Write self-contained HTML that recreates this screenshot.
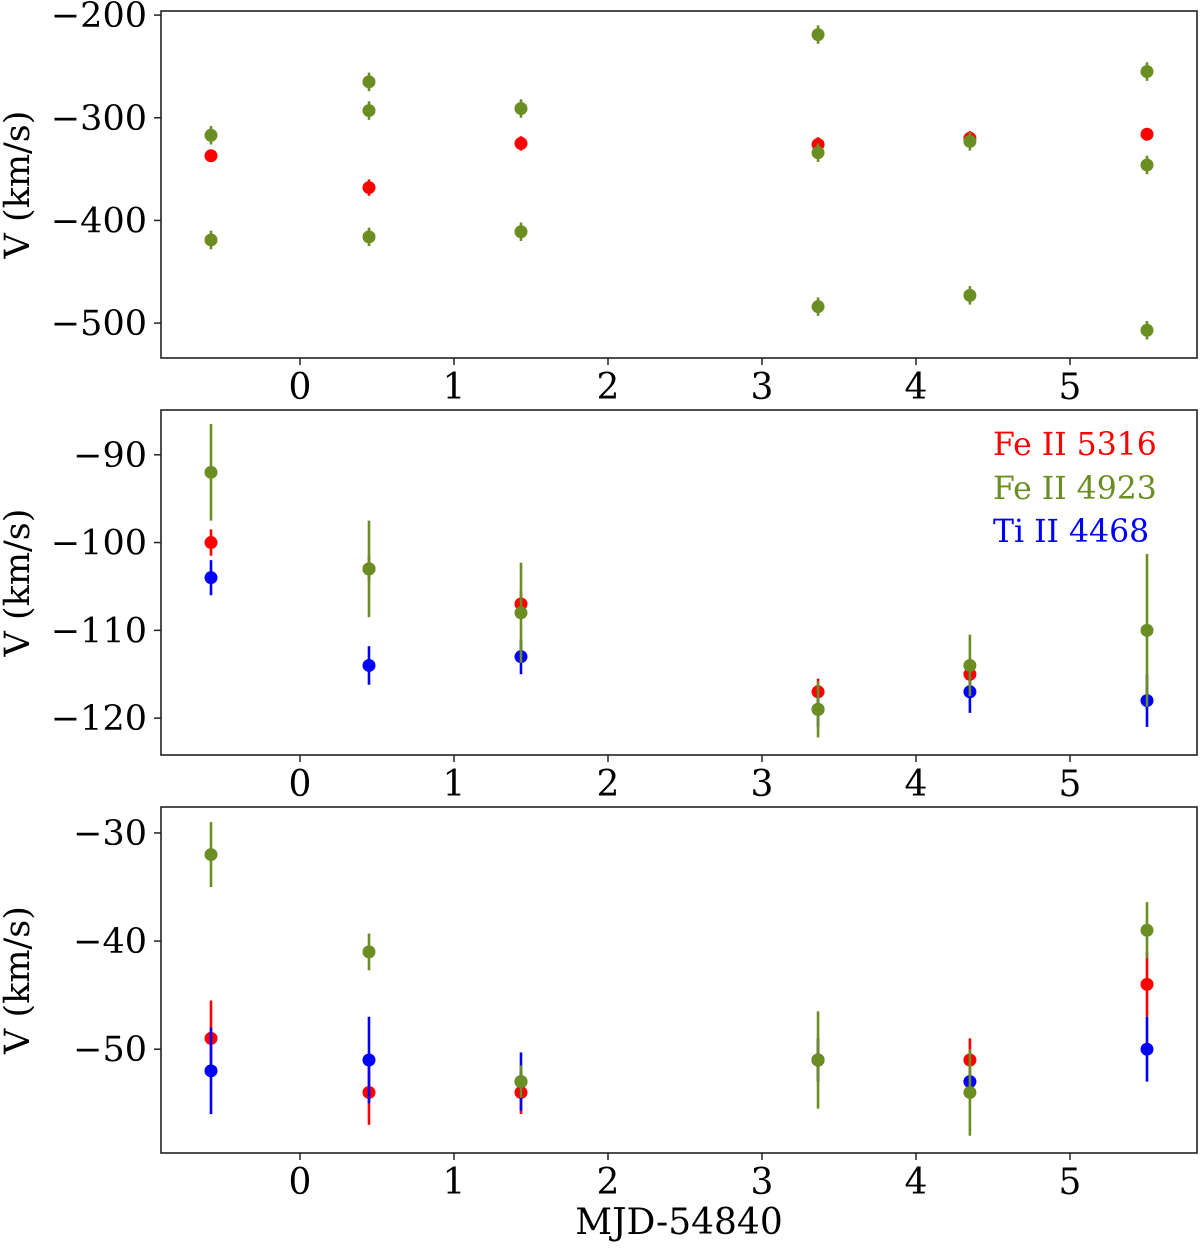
<!DOCTYPE html>
<html><head><meta charset="utf-8"><style>
body{margin:0;background:#fff}
text{font-family:"DejaVu Serif","Liberation Serif",serif}
</style></head><body>
<svg id="chart" width="1200" height="1245" xmlns="http://www.w3.org/2000/svg"></svg>
<script>
const xDates = [-0.578, 0.448, 1.435, 3.364, 4.35, 5.5];
const xTicks = [0, 1, 2, 3, 4, 5];
// Panel 1
const p1Red = [-337, -368, -325, -326, -320, -316];
const p1RedErr = [6, 8, 7, 7, 7, 5];
const p1GreenA = [-317, -265, -291, -219, -323, -255];
const p1GreenB = [-419, -293, -411, -334, null, -346];
const p1GreenC = [null, -416, null, -484, -473, -507];
const p1GreenErr = 9;
const p1Ticks = [-200, -300, -400, -500];
// Panel 2
const p2Red = [-100, -103, -107, -117, -115, null];
const p2RedErr = [1.5, 1.5, 1.5, 1.5, 1.2, 0];
const p2Green = [-92, -103, -108, -119, -114, -110];
const p2GreenErr = [5.5, 5.5, 5.7, 3.2, 3.5, 8.7];
const p2Blue = [-104, -114, -113, -119, -117, -118];
const p2BlueErr = [2, 2.2, 2, 2, 2.4, 3];
const p2Ticks = [-90, -100, -110, -120];
// Panel 3
const p3Red = [-49, -54, -54, -51, -51, -44];
const p3RedErr = [3.5, 3, 2, 2, 2, 3];
const p3Green = [-32, -41, -53, -51, -54, -39];
const p3GreenErr = [3, 1.7, 1.5, 4.5, 4, 2.6];
const p3Blue = [-52, -51, -53, -51, -53, -50];
const p3BlueErr = [4, 4, 2.7, 2, 1, 3];
const p3Ticks = [-30, -40, -50];

const NS = "http://www.w3.org/2000/svg";
const svg = document.getElementById('chart');
const X0 = 161, X1 = 1197;
const FS = 35;
const xScale = v => 300 + v * 154;
const RED = '#ff0000', GREEN = '#6b8e23', BLUE = '#0000ff';
function mk(tag, attrs, parent) {
  const e = document.createElementNS(NS, tag);
  for (const k in attrs) e.setAttribute(k, attrs[k]);
  (parent || svg).appendChild(e);
  return e;
}
function panel(name, top, bottom, vTop, vBot, ticks, series) {
  const g = mk('g', {});
  
  
  const y = v => top + (v - vTop) / (vBot - vTop) * (bottom - top);
  const frame = mk('rect', {x: X0, y: top, width: X1 - X0, height: bottom - top, fill: 'none', stroke: '#222', 'stroke-width': 1.6}, g);
  
  
  ticks.forEach(t => {
    mk('line', {x1: X0 - 7, x2: X0, y1: y(t), y2: y(t), stroke: '#222', 'stroke-width': 1.5}, g);
    const tx = mk('text', {x: X0 - 14, y: y(t) + 12, 'text-anchor': 'end', 'font-size': FS}, g);
    tx.textContent = '\u2212' + Math.abs(t);
    
    
  });
  xTicks.forEach(t => {
    mk('line', {x1: xScale(t), x2: xScale(t), y1: bottom, y2: bottom + 7, stroke: '#222', 'stroke-width': 1.5}, g);
    const tx = mk('text', {x: xScale(t), y: bottom + 41, 'text-anchor': 'middle', 'font-size': 36}, g);
    tx.textContent = t;
    
    
  });
  const yl = mk('text', {x: 0, y: 0, 'text-anchor': 'middle', 'font-size': FS, transform: `translate(29,${(top + bottom) / 2}) rotate(-90)`}, g);
  yl.textContent = 'V (km/s)';
  
  
  series.forEach(s => {
    s.vals.forEach((v, i) => {
      if (v === null) return;
      const e = Array.isArray(s.err) ? s.err[i] : s.err;
      const cx = xScale(xDates[i]);
      const bar = mk('line', {x1: cx, x2: cx, y1: y(v - e), y2: y(v + e), stroke: s.color, 'stroke-width': 2.6}, g);
      
      
      const c = mk('circle', {cx: cx, cy: y(v), r: 6.5, fill: s.color}, g);
      
      
    });
  });
}
panel('panel-top', 11, 358, -196, -534, p1Ticks, [
  {name: 'fe5316', vals: p1Red, err: p1RedErr, color: RED},
  {name: 'fe4923', vals: p1GreenA, err: p1GreenErr, color: GREEN},
  {name: 'fe4923', vals: p1GreenB, err: p1GreenErr, color: GREEN},
  {name: 'fe4923', vals: p1GreenC, err: p1GreenErr, color: GREEN}
]);
panel('panel-middle', 410, 755, -84.9, -124.2, p2Ticks, [
  {name: 'fe5316', vals: p2Red, err: p2RedErr, color: RED},
  {name: 'ti4468', vals: p2Blue, err: p2BlueErr, color: BLUE},
  {name: 'fe4923', vals: p2Green, err: p2GreenErr, color: GREEN}
]);
panel('panel-bottom', 807, 1153, -27.6, -59.6, p3Ticks, [
  {name: 'fe5316', vals: p3Red, err: p3RedErr, color: RED},
  {name: 'ti4468', vals: p3Blue, err: p3BlueErr, color: BLUE},
  {name: 'fe4923', vals: p3Green, err: p3GreenErr, color: GREEN}
]);
const xl = mk('text', {x: 679, y: 1234, 'text-anchor': 'middle', 'font-size': 36});
xl.textContent = 'MJD-54840';


[['Fe II 5316', RED, 455], ['Fe II 4923', GREEN, 499], ['Ti II 4468', BLUE, 542]].forEach(([t, c, yy]) => {
  const tx = mk('text', {x: 993, y: yy, 'font-size': 31.5, fill: c});
  tx.textContent = t;
  
  
});
</script>
</body></html>
